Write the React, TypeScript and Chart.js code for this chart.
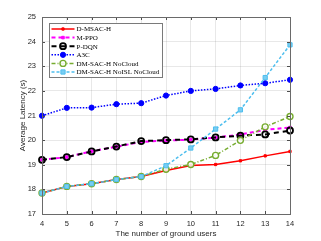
import React, { useEffect, useRef } from "react";
import { Chart, registerables } from "chart.js";
import { drawPoint } from "chart.js/helpers";

Chart.register(...registerables);

const users = [4, 5, 6, 7, 8, 9, 10, 11, 12, 13, 14];
const dmsach = [17.85, 18.12, 18.23, 18.4, 18.52, 18.77, 18.97, 19.01, 19.16, 19.36, 19.54];
const mppo = [19.2, 19.31, 19.55, 19.73, 19.93, 19.98, 20.02, 20.1, 20.23, 20.42, 20.51];
const pdqn = [19.2, 19.31, 19.54, 19.74, 19.96, 20.0, 20.03, 20.11, 20.18, 20.23, 20.39];
const a3c = [20.99, 21.31, 21.32, 21.46, 21.5, 21.81, 22.0, 22.08, 22.22, 22.31, 22.45];
const noCloud = [17.85, 18.12, 18.23, 18.4, 18.52, 18.82, 19.01, 19.38, 19.99, 20.54, 20.96];
const noIslNoCloud = [17.85, 18.12, 18.23, 18.4, 18.52, 18.96, 19.68, 20.45, 21.23, 22.54, 23.87];
const yTicks = [17, 18, 19, 20, 21, 22, 23, 24, 25];

const seriesNames = ["D-MSAC-H", "M-PPO", "P-DQN", "A3C", "DM-SAC-H NoCloud", "DM-SAC-H NoISL NoCloud"];

type Style = {
  color: string;
  width: number;
  dash: number[];
  pointStyle: string;
  radius: number;
  pointBg: string;
  pointBorder: string;
  pointBorderWidth: number;
};

const styles: Style[] = [
  { color: "#ff0000", width: 1.5, dash: [], pointStyle: "rect", radius: 1.6, pointBg: "#ff0000", pointBorder: "#ff0000", pointBorderWidth: 1 },
  { color: "#ff00ff", width: 2, dash: [4, 3], pointStyle: "rect", radius: 1.8, pointBg: "#ff00ff", pointBorder: "#ff00ff", pointBorderWidth: 1 },
  { color: "#000000", width: 2, dash: [5, 4], pointStyle: "circle", radius: 3, pointBg: "rgba(255,255,255,0)", pointBorder: "#000000", pointBorderWidth: 1.8 },
  { color: "#0000ff", width: 1.5, dash: [1.5, 1.5], pointStyle: "circle", radius: 2.6, pointBg: "#0000ff", pointBorder: "#0000ff", pointBorderWidth: 1 },
  { color: "#77ac30", width: 1.5, dash: [4, 2, 1, 2], pointStyle: "circle", radius: 3, pointBg: "rgba(255,255,255,0.85)", pointBorder: "#77ac30", pointBorderWidth: 1.4 },
  { color: "#4dbeee", width: 1.5, dash: [3, 2], pointStyle: "rect", radius: 3, pointBg: "rgba(120,205,242,1)", pointBorder: "#4dbeee", pointBorderWidth: 1 },
];

const seriesValues = [dmsach, mppo, pdqn, a3c, noCloud, noIslNoCloud];

const framePlugin = {
  id: "frameAndLegend",
  afterDatasetsDraw(chart: any) {
    const ctx = chart.ctx;
    const { left, right, top, bottom } = chart.chartArea;
    const xs = chart.scales.x;
    const ys = chart.scales.y;
    ctx.save();
    ctx.strokeStyle = "#4d4d4d";
    ctx.lineWidth = 1;
    ctx.beginPath();
    users.forEach((_, i) => {
      const px = Math.round(xs.getPixelForValue(i)) + 0.5;
      ctx.moveTo(px, bottom);
      ctx.lineTo(px, bottom - 3);
      ctx.moveTo(px, top);
      ctx.lineTo(px, top + 3);
    });
    yTicks.forEach((v) => {
      const py = Math.round(ys.getPixelForValue(v)) + 0.5;
      ctx.moveTo(left, py);
      ctx.lineTo(left + 3, py);
      ctx.moveTo(right, py);
      ctx.lineTo(right - 3, py);
    });
    ctx.stroke();
    ctx.strokeStyle = "#6a6a6a";
    ctx.strokeRect(Math.round(left) + 0.5, Math.round(top) + 0.5, Math.round(right - left), Math.round(bottom - top));

    const lx = Math.round(left) + 7.5;
    const ly = Math.round(top) + 6.5;
    const lw = 113;
    const lh = 54;
    ctx.fillStyle = "#ffffff";
    ctx.fillRect(lx, ly, lw, lh);
    ctx.strokeStyle = "#7a7a7a";
    ctx.lineWidth = 1;
    ctx.strokeRect(lx, ly, lw, lh);
    ctx.font = '7px "Liberation Serif", "DejaVu Serif", serif';
    ctx.textBaseline = "middle";
    ctx.textAlign = "left";
    seriesNames.forEach((name, i) => {
      const st = styles[i];
      const cy = ly + 5.5 + i * 8.6;
      const x0 = lx + 2;
      const x1 = lx + 25;
      ctx.save();
      ctx.strokeStyle = st.color;
      ctx.lineWidth = st.width;
      ctx.setLineDash(st.dash);
      ctx.beginPath();
      ctx.moveTo(x0, cy);
      ctx.lineTo(x1, cy);
      ctx.stroke();
      ctx.setLineDash([]);
      ctx.fillStyle = st.pointBg;
      ctx.strokeStyle = st.pointBorder;
      ctx.lineWidth = st.pointBorderWidth;
      drawPoint(ctx, { pointStyle: st.pointStyle as any, radius: st.radius, rotation: 0, borderWidth: st.pointBorderWidth }, (x0 + x1) / 2, cy);
      ctx.restore();
      ctx.fillStyle = "#000000";
      ctx.fillText(name, lx + 27, cy + 0.5);
    });
    ctx.restore();
  },
};

export default function App() {
  const ref = useRef<HTMLCanvasElement | null>(null);
  useEffect(() => {
    if (!ref.current) return;
    const datasets = seriesNames.map((name, i) => {
      const st = styles[i];
      return {
        label: name,
        data: seriesValues[i],
        borderColor: st.color,
        backgroundColor: st.pointBg,
        borderWidth: st.width,
        borderDash: st.dash,
        pointStyle: st.pointStyle,
        pointRadius: st.radius,
        pointBackgroundColor: st.pointBg,
        pointBorderColor: st.pointBorder,
        pointBorderWidth: st.pointBorderWidth,
        tension: 0,
        fill: false,
        order: seriesNames.length - i,
      };
    });
    const chart = new Chart(ref.current, {
      type: "line",
      data: { labels: users.map(String), datasets: datasets as any },
      plugins: [framePlugin],
      options: {
        animation: false,
        responsive: false,
        devicePixelRatio: 1,
        layout: { padding: { left: 0, top: 17, right: 31, bottom: 0 } },
        plugins: { legend: { display: false }, tooltip: { enabled: false } },
        scales: {
          x: {
            type: "category",
            offset: false,
            grid: { color: "rgba(0,0,0,0.09)", drawTicks: false },
            border: { display: false },
            ticks: {
              padding: 5,
              color: "#262626",
              font: { family: '"Liberation Sans", Arial, sans-serif', size: 7.5 },
              maxRotation: 0,
            },
            title: {
              display: true,
              text: "The number of ground users",
              color: "#262626",
              font: { family: '"Liberation Sans", Arial, sans-serif', size: 8 },
              padding: { top: 0, bottom: 2 },
            },
            afterFit: (s: any) => {
              s.height = 27;
            },
          },
          y: {
            type: "linear",
            min: 17,
            max: 25,
            grid: { color: "rgba(0,0,0,0.09)", drawTicks: false },
            border: { display: false },
            ticks: {
              stepSize: 1,
              padding: 6,
              color: "#262626",
              font: { family: '"Liberation Sans", Arial, sans-serif', size: 7.5 },
            },
            title: {
              display: true,
              text: "Average Latency (s)",
              color: "#262626",
              font: { family: '"Liberation Sans", Arial, sans-serif', size: 8 },
              padding: { top: 18, bottom: 0 },
            },
            afterFit: (s: any) => {
              s.width = 42;
            },
          },
        },
      },
    });
    return () => chart.destroy();
  }, []);
  return (
    <div style={{ position: "absolute", left: 0, top: 0, width: 321, height: 241, background: "#fff" }}>
      <canvas ref={ref} width={321} height={241} />
    </div>
  );
}
